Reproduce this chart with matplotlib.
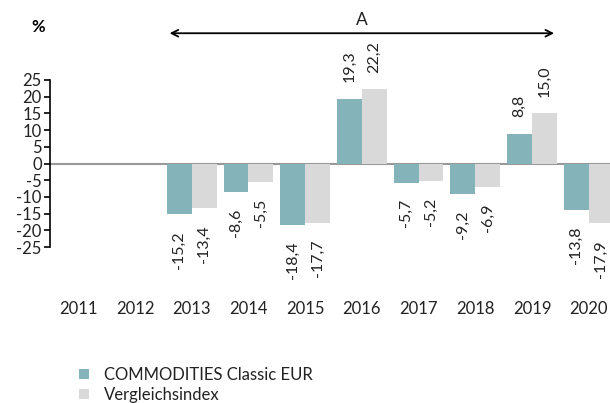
import numpy as np
import matplotlib.pyplot as plt

plt.rcParams['font.family'] = ['Lato', 'DejaVu Sans']

years = ['2011', '2012', '2013', '2014', '2015', '2016', '2017', '2018', '2019', '2020']
fund = [np.nan, np.nan, -15.2, -8.6, -18.4, 19.3, -5.7, -9.2, 8.8, -13.8]
bench = [np.nan, np.nan, -13.4, -5.5, -17.7, 22.2, -5.2, -6.9, 15.0, -17.9]
fund_name = 'COMMODITIES Classic EUR'
bench_name = 'Vergleichsindex'

teal = '#84B4BA'
grey = '#D9D9D9'
txt = '#222222'

fig = plt.figure(figsize=(6.1, 4.03), dpi=100)
ax = fig.add_axes([50/610, 1-247/403, 567/610, 167/403])

x = np.arange(len(years))
w = 0.44
b1 = ax.bar(x - w/2, fund, w, color=teal, label=fund_name)
b2 = ax.bar(x + w/2, bench, w, color=grey, label=bench_name)

def fmt(v):
    return ('%.1f' % v).replace('.', ',')

for xs, vals in ((x - w/2, fund), (x + w/2, bench)):
    for xi, v in zip(xs, vals):
        if np.isnan(v):
            continue
        if v >= 0:
            ax.annotate(fmt(v), (xi, v), xytext=(0, 12), textcoords='offset points',
                        rotation=90, ha='center', va='bottom', fontsize=11.5,
                        color=txt, annotation_clip=False)
        else:
            ax.annotate(fmt(v), (xi, v), xytext=(0, -12), textcoords='offset points',
                        rotation=90, ha='center', va='top', fontsize=11.5,
                        color=txt, annotation_clip=False)

ax.set_xlim(-0.5, len(years) - 0.5)
ax.set_ylim(-25, 25)
ax.set_yticks(range(-25, 30, 5))
ax.set_yticklabels([str(t) for t in range(-25, 30, 5)], fontsize=12, color=txt)
ax.tick_params(axis='y', direction='out', length=4, width=1.2, pad=2, color='black')
ax.set_xticks(x)
ax.set_xticklabels(years, fontsize=12, color=txt)
ax.tick_params(axis='x', length=0, pad=39)

for s in ['top', 'right', 'bottom']:
    ax.spines[s].set_visible(False)
ax.spines['left'].set_linewidth(1.2)
ax.axhline(0, color='#999999', lw=1.5, zorder=0.5, clip_on=False)

# period arrow
ax.annotate('', xy=(8 + w, 39), xytext=(2 - w, 39),
            arrowprops=dict(arrowstyle='<->', color='black', lw=1.3,
                            mutation_scale=12), annotation_clip=False)
ax.text((2 - w + 8 + w) / 2, 40.5, 'A', ha='center', va='bottom', fontsize=12.5,
        color=txt, clip_on=False)

fig.text(38/610, 1-27/403, '%', ha='center', va='center', fontsize=12,
         fontweight='bold')

fig.legend(handles=[b1, b2], loc='upper left', bbox_to_anchor=(72/610, 1-360/403),
           frameon=False, fontsize=12, handlelength=0.6, handleheight=0.6,
           handletextpad=0.9, labelspacing=0.25, borderaxespad=0, labelcolor=txt)

fig.savefig('out.png', dpi=100)
